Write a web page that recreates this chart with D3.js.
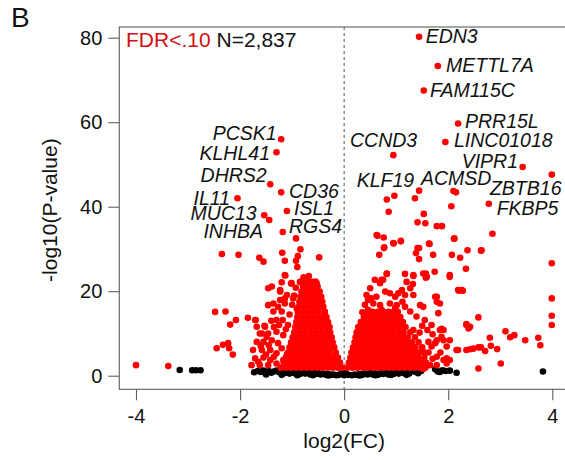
<!DOCTYPE html>
<html><head><meta charset="utf-8">
<script src="https://cdn.jsdelivr.net/npm/d3@7"></script>
<style>body{margin:0;background:#fff}svg{display:block;font-family:"Liberation Sans",Arial,sans-serif}</style>
</head><body><svg id="c" width="565" height="460"></svg>
<script>
// ---------- data ----------
const xTicks=[-4,-2,0,2,4];
const yTicks=[0,20,40,60,80];
const panelLabel="B";
const fdrText="FDR<.10", countText="N=2,837";
const xTitle="log2(FC)", yTitle="-log10(P-value)";

// dense significant genes, down-regulated (rows: -log10P, list of log2FC)
const downRows=[
[1.9,[-1.22,-1.12,-1.02,-0.92,-0.82,-0.72,-0.62,-0.52,-0.42,-0.32,-0.22,-0.12,-0.05]],
[3.1,[-1.16,-1.06,-0.96,-0.86,-0.76,-0.66,-0.56,-0.46,-0.36,-0.26,-0.16,-0.08]],
[4.3,[-1.12,-1.02,-0.92,-0.82,-0.72,-0.62,-0.52,-0.42,-0.32,-0.22,-0.12]],
[5.5,[-1.08,-0.98,-0.88,-0.78,-0.68,-0.58,-0.48,-0.38,-0.28,-0.16]],
[6.7,[-1.05,-0.95,-0.85,-0.75,-0.65,-0.55,-0.45,-0.35,-0.25,-0.19]],
[7.9,[-1.02,-0.92,-0.82,-0.72,-0.62,-0.52,-0.42,-0.32,-0.22]],
[9.1,[-0.99,-0.89,-0.79,-0.69,-0.59,-0.49,-0.39,-0.29,-0.24]],
[10.3,[-0.96,-0.86,-0.76,-0.66,-0.56,-0.46,-0.36,-0.27]],
[11.5,[-0.94,-0.84,-0.74,-0.64,-0.54,-0.44,-0.34,-0.28]],
[12.7,[-0.92,-0.82,-0.72,-0.62,-0.52,-0.42,-0.31]],
[13.9,[-0.90,-0.80,-0.70,-0.60,-0.50,-0.41,-0.34]],
[15.1,[-0.89,-0.79,-0.69,-0.59,-0.49,-0.37]],
[16.3,[-0.87,-0.77,-0.67,-0.57,-0.47,-0.40]],
[17.5,[-0.86,-0.76,-0.66,-0.56,-0.46,-0.42]],
[18.7,[-0.84,-0.74,-0.64,-0.54,-0.44]],
[19.9,[-0.82,-0.72,-0.62,-0.52,-0.47]],
[21.1,[-0.79,-0.69,-0.59,-0.51]],
[22.3,[-0.82,-0.72,-0.63,-0.55]]
];
// dense significant genes, up-regulated
const upRows=[
[1.9,[0.06,0.16,0.26,0.36,0.46,0.56,0.66,0.76,0.86,0.96,1.06,1.16,1.26,1.36,1.46,1.56]],
[3.1,[0.09,0.19,0.29,0.39,0.49,0.59,0.69,0.79,0.89,0.99,1.09,1.19,1.29,1.39,1.49,1.57]],
[4.3,[0.12,0.22,0.32,0.42,0.52,0.62,0.72,0.82,0.92,1.02,1.12,1.22,1.32,1.42,1.54]],
[5.5,[0.14,0.24,0.34,0.44,0.54,0.64,0.74,0.84,0.94,1.04,1.14,1.24,1.34,1.44,1.54]],
[6.7,[0.17,0.27,0.37,0.47,0.57,0.67,0.77,0.87,0.97,1.07,1.17,1.27,1.37,1.50]],
[7.9,[0.20,0.30,0.40,0.50,0.60,0.70,0.80,0.90,1.00,1.10,1.20,1.30,1.43]],
[9.1,[0.22,0.32,0.42,0.52,0.62,0.72,0.82,0.92,1.02,1.12,1.22,1.36]],
[10.3,[0.24,0.34,0.44,0.54,0.64,0.74,0.84,0.94,1.04,1.14,1.27]],
[11.5,[0.27,0.37,0.47,0.57,0.67,0.77,0.87,0.97,1.07,1.18]],
[12.7,[0.32,0.42,0.52,0.62,0.72,0.82,0.92,1.02,1.13]],
[13.9,[0.38,0.48,0.58,0.68,0.78,0.88,0.98,1.08]],
[15.1,[0.45,0.55,0.65,0.75,0.85,0.95,1.03]]
];
// scattered significant genes [log2FC, -log10P]
const sigScatter=[
[-1.21,55.95],[-1.30,52.9],[-1.42,45.3],[-1.21,43.4],[-2.05,42.0],[-1.10,39.0],[-1.535,37.96],[-1.44,36.85],
[-1.18,34.0],[-0.925,32.5],[-0.84,29.9],[-0.89,28.3],[-0.925,27.2],[-1.19,29.1],[-1.14,27.2],[-0.48,28.0],[-0.90,25.7],
[-2.35,28.8],[-2.03,28.6],[-1.63,27.9],[-1.55,27.0],[-1.13,23.7],[-1.20,22.1],[-1.02,21.8],
[-2.48,15.1],[-2.28,15.2],[-2.19,12.1],[-2.08,13.2],[-1.85,13.7],[-2.45,6.5],[-2.33,7.3],[-2.21,6.5],[-2.14,5.0],[-2.23,7.7],
[-4.0,2.5],[-3.38,2.3],[-1.70,13.2],[-1.68,11.6],
[-1.14,23.8],[-1.01,21.9],[-1.39,21.1],[-1.23,20.3],[-1.10,19.1],[-1.46,16.7],[-1.27,16.3],[-1.14,17.1],[-0.98,18.3],
[-0.91,15.9],[-1.36,15.2],[-1.20,15.2],[-1.71,13.2],[-1.52,11.6],[-1.62,10.0],[-1.46,10.0],[-1.30,10.4],[-1.17,9.6],
[-1.68,8.0],[-1.55,8.0],[-1.39,8.4],[-1.27,7.7],[-1.75,6.1],[-1.58,6.1],[-1.42,6.1],[-1.30,5.3],[-1.71,4.1],[-1.55,4.3],
[-1.42,3.7],[-1.78,2.5],[-1.62,2.5],[-1.46,2.5],[-1.30,2.9],[-1.17,3.7],[-1.46,20.7],[-1.23,19.9],[-1.14,18.3],[-1.23,17.9],
[-1.36,17.1],[-1.30,13.2],[-1.18,13.2],[-1.53,11.8],[-1.58,10.0],[-1.49,9.2],[-1.08,12.0],[-1.05,14.5],[-1.12,11.0],
[-1.25,12.0],[-1.40,13.0],[-1.35,11.5],[-1.60,7.0],[-1.50,5.0],[-1.65,3.3],[-1.35,4.5],[-1.20,6.5],[-1.45,7.2],[-1.10,5.0],
[-0.85,22.2],[-0.53,21.9],[-0.93,20.8],[-0.96,19.0],[-1.0,16.8],[-0.78,23.3],[-0.68,23.6],
[1.44,80.2],[1.80,73.3],[1.53,67.5],[2.19,59.7],[1.945,55.3],[0.945,52.2],[3.43,49.4],[3.99,47.6],[2.78,40.7],
[1.44,43.8],[2.10,43.7],[2.15,43.4],[0.965,42.6],[0.82,41.7],[1.36,42.0],[0.855,38.8],[1.53,38.3],[2.06,40.1],[1.41,36.3],
[1.56,36.1],[1.78,35.4],[1.88,35.4],[2.85,33.6],[0.64,33.1],[0.76,32.7],[0.945,31.4],[1.09,31.9],[1.44,30.2],[1.63,31.3],
[2.11,32.4],[0.765,30.2],[2.37,29.7],[2.64,29.7],
[3.99,26.6],[3.99,18.3],[3.99,14.2],[3.99,12.0],[3.73,9.0],[3.77,7.2],[3.48,8.4],[3.10,10.5],[3.19,9.1],[3.27,9.6],[3.01,2.9],
[2.94,6.3],[2.80,9.0],[2.82,7.1],[2.71,5.85],[2.63,6.7],[2.58,6.7],[2.48,6.4],[2.42,6.25],[2.58,1.7],[2.58,13.8],[2.35,12.2],
[2.39,11.2],[2.19,6.1],[2.21,20.1],[2.28,20.1],[2.03,23.8],[2.07,28.6],[2.23,27.9],[2.34,25.3],[2.63,29.6],
[2.12,32.5],[1.71,28.6],[1.64,31.2],[1.41,30.2],[1.38,29.0],[1.44,27.6],[1.74,24.6],[1.57,24.2],[1.57,23.2],[1.33,23.8],
[1.17,24.1],[1.32,21.7],[0.625,33.3],[0.77,30.4],[0.675,28.6],[0.95,31.3],[1.09,31.8],[1.78,18.7],[1.78,17.5],[1.81,14.8],
[1.87,11.1],[1.52,16.3],[1.46,16.7],[1.75,18.7],[1.84,17.1],[1.55,13.2],[1.68,12.0],[1.33,10.8],[1.91,10.8],[1.87,9.2],
[2.03,8.4],[1.78,8.4],[1.68,6.9],[1.78,4.5],[1.91,3.7],[2.03,3.7],[2.16,6.1],[2.35,6.1],[1.78,2.5],[1.97,2.9],[2.03,23.4],
[2.19,20.3],[2.26,20.3],[2.35,12.0],[1.52,24.2],[1.59,23.4],[1.33,23.6],[0.82,24.1],[0.43,19.1],[0.50,20.7],[0.59,22.7],
[0.69,21.9],[0.75,22.7],[0.62,18.7],[0.79,19.9],[0.88,19.5],[0.98,18.7],[1.04,19.5],[1.11,20.3],[1.17,19.1],[1.27,20.7],
[1.33,19.1],[1.20,22.2],[0.56,17.1],[0.69,16.7],[0.88,17.1],[1.01,16.7],[1.17,16.3],[1.27,15.2],[1.39,14.0],[0.46,15.6],
[0.72,22.7],[0.82,24.2],[0.46,17.9],[0.72,15.6],[1.62,5.5],[1.70,9.8],[1.60,10.8],[1.50,11.8],[1.45,10.2],[1.65,2.5],
[1.70,4.0],[1.85,5.5],[1.62,8.0],[1.84,10.8],[1.91,8.4],[1.75,7.7],[1.97,6.9],[1.97,4.1],[2.42,11.6],[1.52,1.6],
[0.40,16.8],[0.52,18.3],[0.98,16.0],[1.12,17.5],[0.35,15.0]
];
// non-significant genes
const nsPoints=[
[-3.16,1.35],[-2.92,1.3],[-2.85,1.3],[-2.76,1.3],
[-1.73,0.8],[-1.66,1.1],[-1.6,0.9],[-1.55,1.2],[-1.5,0.8],[-1.45,1.1],[-1.4,0.7],[-1.35,1.0],[-1.3,1.2],[-1.25,0.8],
[-1.2,1.1],[-1.15,0.6],[-1.1,0.9],[-1.05,0.5],[-1.0,1.0],[-0.95,0.6],[-0.9,0.8],[-0.85,0.4],[-0.8,0.9],[-0.75,0.5],
[-0.7,0.7],[-0.65,0.3],[-0.6,0.8],[-0.55,0.4],[-0.5,0.6],[-0.45,0.3],[-0.4,0.5],[-0.35,0.2],[-0.3,0.4],[-0.25,0.2],
[-0.2,0.3],[-0.15,0.1],[-0.1,0.2],[-0.05,0.5],[0,0.1],[0.03,0.6],[0.08,0.2],[0.15,0.1],[0.2,0.3],[0.25,0.2],[0.3,0.4],
[0.35,0.2],[0.4,0.5],[0.45,0.3],[0.5,0.6],[0.55,0.3],[0.6,0.5],[0.65,0.2],[0.7,0.7],[0.75,0.4],[0.8,0.8],[0.85,0.3],
[0.9,0.6],[0.95,0.4],[1.0,0.9],[1.05,0.5],[1.1,1.0],[1.15,0.6],[1.2,0.8],[1.25,0.5],[1.3,1.1],[1.36,0.95],[1.42,0.6],
[1.48,1.1],[1.75,1.5],[1.80,1.0],[1.84,0.9],[1.89,1.3],[1.95,1.1],[2.03,1.2],[2.16,0.7],[3.82,1.0],
[-1.5,0.3],[-1.2,0.2],[-0.9,0.1],[-0.6,0.1],[-0.3,0.05],[0.3,0.05],[0.6,0.1],[0.9,0.15],[1.2,0.2]
];
// gene labels: name, text x (log2FC), text baseline (-log10P), anchor
const geneLabels=[
["PCSK1",-1.296,55.8,"end"],["KLHL41",-1.425,51.1,"end"],["DHRS2",-1.488,45.8,"end"],["IL11",-2.193,40.4,"end"],
["MUC13",-1.68,36.9,"end"],["INHBA",-1.559,32.6,"end"],["CD36",-1.06,42.1,"start"],["ISL1",-0.964,38.1,"start"],
["RGS4",-1.06,33.8,"start"],["EDN3",1.567,78.7,"start"],["METTL7A",1.957,71.9,"start"],["FAM115C",1.65,66.0,"start"],
["PRR15L",2.322,58.6,"start"],["LINC01018",2.111,54.1,"start"],["CCND3",0.112,54.1,"start"],["VIPR1",3.341,49.2,"end"],
["KLF19",0.241,44.7,"start"],["ACMSD",1.477,45.1,"start"],["ZBTB16",2.802,42.8,"start"],["FKBP5",2.931,38.0,"start"]
];

// ---------- drawing ----------
const svg=d3.select("#c");
const frameL=119.3, frameT=27, frameB=389.3, frameR=570;
const x=d3.scaleLinear().domain([-4,4]).range([136,552.3]);
const y=d3.scaleLinear().domain([0,80]).range([375.7,37.7]);
const grey="#5f5f5f";

svg.append("rect").attr("x",frameL).attr("y",frameT).attr("width",frameR-frameL).attr("height",frameB-frameT)
  .attr("fill","none").attr("stroke",grey).attr("stroke-width",1.1);

svg.append("line").attr("x1",x(0)).attr("x2",x(0)).attr("y1",frameT).attr("y2",frameB)
  .attr("stroke","#555").attr("stroke-dasharray","3,3").attr("stroke-width",1);

const ya=svg.append("g").attr("transform",`translate(${frameL},0)`)
  .call(d3.axisLeft(y).tickValues(yTicks).tickSize(11).tickPadding(6));
const xa=svg.append("g").attr("transform",`translate(0,${frameB})`)
  .call(d3.axisBottom(x).tickValues(xTicks).tickSize(11).tickPadding(9).tickFormat(d=>d<0?"-"+Math.abs(d):d));
[ya,xa].forEach(g=>{
  g.select(".domain").remove();
  g.selectAll(".tick line").attr("stroke",grey).attr("stroke-width",1.1);
  g.selectAll(".tick text").attr("fill","#111").style("font-size","20px").style("font-family","'Liberation Sans',Arial,sans-serif");
});

const sigPoints=[];
downRows.forEach(r=>r[1].forEach(v=>sigPoints.push([v,r[0]])));
upRows.forEach(r=>r[1].forEach(v=>sigPoints.push([v,r[0]])));
sigScatter.forEach(p=>sigPoints.push(p));

const R=3.3;
svg.append("g").selectAll("circle").data(nsPoints).join("circle")
  .attr("cx",d=>x(d[0])).attr("cy",d=>y(d[1])).attr("r",R).attr("fill","#000");
svg.append("g").selectAll("circle").data(sigPoints).join("circle")
  .attr("cx",d=>x(d[0])).attr("cy",d=>y(d[1])).attr("r",R).attr("fill","#ff0000");

svg.append("g").selectAll("text").data(geneLabels).join("text")
  .attr("x",d=>x(d[1])).attr("y",d=>y(d[2])).attr("text-anchor",d=>d[3])
  .style("font-size","19.5px").style("font-style","italic").attr("fill","#111").text(d=>d[0]);

const t=svg.append("text").attr("x",126).attr("y",46.7).style("font-size","21px");
t.append("tspan").attr("fill","#d01010").text(fdrText);
t.append("tspan").attr("fill","#111").text(" "+countText);

svg.append("text").attr("x",11).attr("y",27).style("font-size","28px").attr("fill","#111").text(panelLabel);
svg.append("text").attr("x",x(0)).attr("y",448).attr("text-anchor","middle").style("font-size","21px").attr("fill","#111").text(xTitle);
svg.append("text").attr("transform",`translate(57,${(frameT+frameB)/2+2}) rotate(-90)`).attr("text-anchor","middle")
  .style("font-size","21px").attr("fill","#111").text(yTitle);
</script></body></html>
